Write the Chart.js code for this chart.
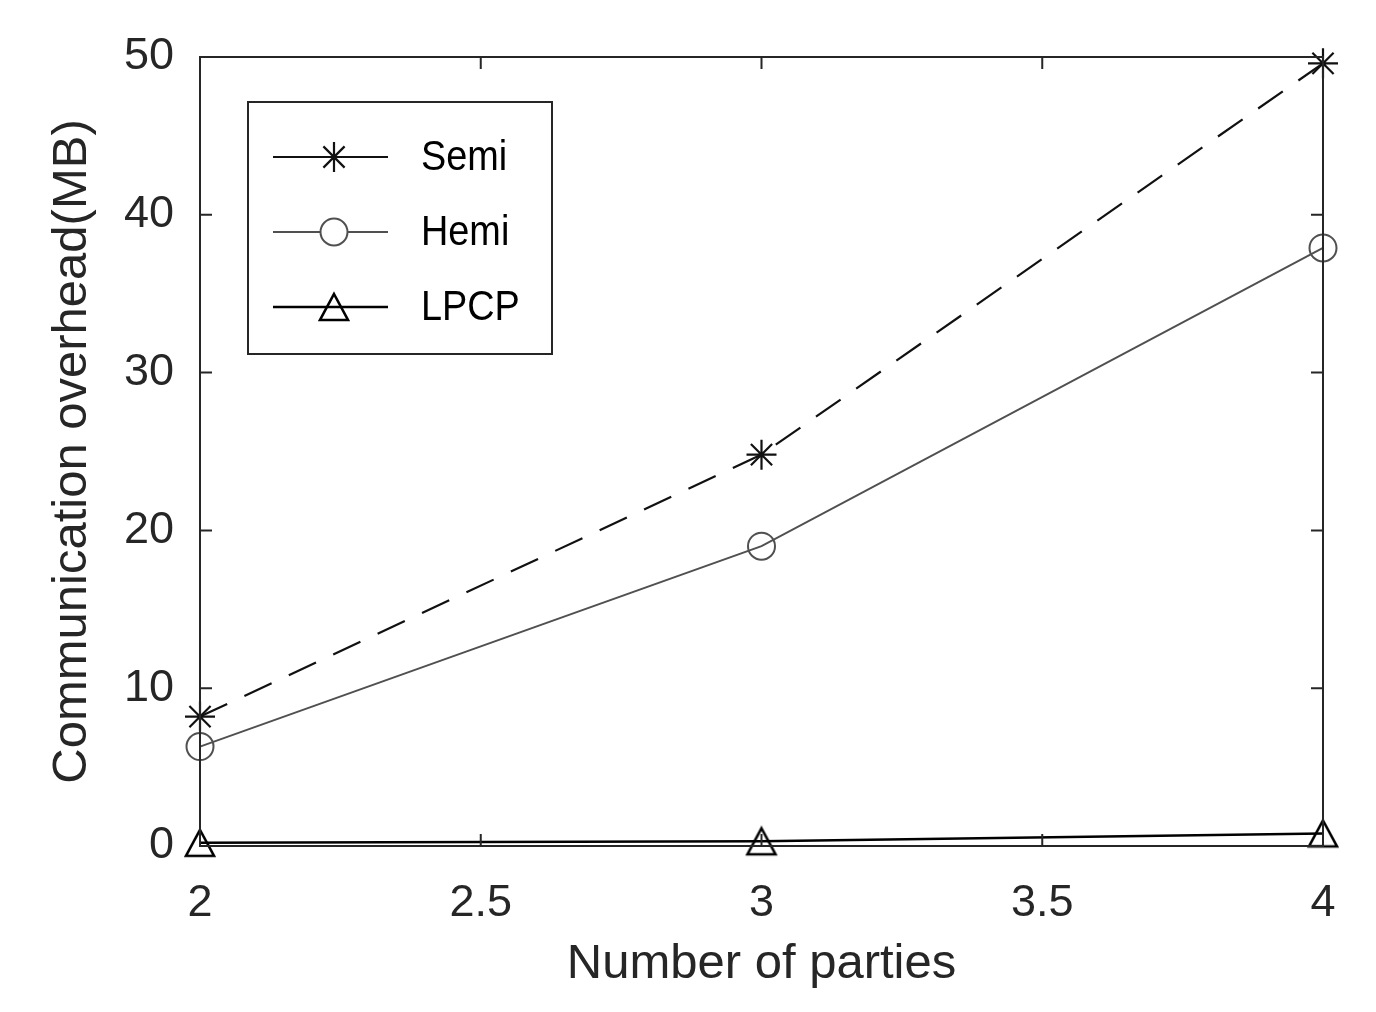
<!DOCTYPE html>
<html>
<head>
<meta charset="utf-8">
<script src="https://cdn.jsdelivr.net/npm/chart.js@4/dist/chart.umd.min.js"></script>
<style>
  html, body { margin: 0; padding: 0; background: #fff; }
  #wrap { width: 1376px; height: 1012px; }
</style>
</head>
<body>
<div id="wrap"><canvas id="overheadChart" width="1376" height="1012"></canvas></div>
<script>
// values
const parties = [2, 3, 4];
const semiMB = [8.2, 24.8, 49.6];
const hemiMB = [6.3, 19.0, 37.9];
const lpcpMB = [0.2, 0.3, 0.8];
const xTicks = [2, 2.5, 3, 3.5, 4];
const yTicks = [0, 10, 20, 30, 40, 50];

const axisColor = '#262626';
const fontFamily = '"Liberation Sans", Arial, Helvetica, sans-serif';

function toPoints(ys) {
    let pts = [];
    for (let i = 0; i < parties.length; i++) {
        pts.push({ x: parties[i], y: ys[i] });
    }
    return pts;
}

// matlab style triangle, centred on its bounding box
function makeTriangle() {
    let c = document.createElement('canvas');
    c.width = 34;
    c.height = 32;
    let g = c.getContext('2d');
    g.strokeStyle = '#000';
    g.lineWidth = 2.6;
    g.lineJoin = 'miter';
    g.beginPath();
    g.moveTo(17, 3);
    g.lineTo(31, 29);
    g.lineTo(3, 29);
    g.closePath();
    g.stroke();
    return c;
}
const triangleMarker = makeTriangle();

// box + inward ticks
const boxPlugin = {
    id: 'boxPlugin',
    afterDraw(chart) {
        const ctx = chart.ctx;
        const a = chart.chartArea;
        const xs = chart.scales.x;
        const ys = chart.scales.y;
        const len = 12;
        ctx.save();
        ctx.strokeStyle = axisColor;
        ctx.lineWidth = 2;
        ctx.beginPath();
        xTicks.forEach(function(t) {
            let px = xs.getPixelForValue(t);
            ctx.moveTo(px, a.bottom); ctx.lineTo(px, a.bottom - len);
            ctx.moveTo(px, a.top); ctx.lineTo(px, a.top + len);
        });
        yTicks.forEach(function(t) {
            let py = ys.getPixelForValue(t);
            ctx.moveTo(a.left, py); ctx.lineTo(a.left + len, py);
            ctx.moveTo(a.right, py); ctx.lineTo(a.right - len, py);
        });
        ctx.stroke();
        ctx.strokeRect(a.left, a.top, a.right - a.left, a.bottom - a.top);
        ctx.restore();
    }
};

// legend box inside the axes, top left
const insideLegend = {
    id: 'insideLegend',
    afterDatasetsDraw(chart) {
        const ctx = chart.ctx;
        const bx = 248, by = 102, bw = 304, bh = 252;
        ctx.save();
        ctx.fillStyle = '#fff';
        ctx.fillRect(bx, by, bw, bh);
        ctx.strokeStyle = axisColor;
        ctx.lineWidth = 2;
        ctx.strokeRect(bx, by, bw, bh);
        const rows = [157, 232, 307];
        chart.data.datasets.forEach(function(ds, i) {
            let y = rows[i];
            ctx.strokeStyle = ds.borderColor;
            ctx.lineWidth = ds.borderWidth;
            ctx.setLineDash([]);
            ctx.beginPath();
            ctx.moveTo(273, y); ctx.lineTo(388, y);
            ctx.stroke();
            ctx.lineWidth = ds.pointBorderWidth;
            ctx.strokeStyle = ds.pointBorderColor;
            ctx.fillStyle = '#fff';
            Chart.helpers.drawPoint(ctx, {
                pointStyle: ds.pointStyle,
                radius: ds.pointRadius,
                borderWidth: ds.pointBorderWidth
            }, 334, y);
            // the legend text is a bit narrow in the original
            ctx.save();
            ctx.translate(421, y + 1);
            ctx.scale(0.88, 1);
            ctx.fillStyle = '#000';
            ctx.font = '43px ' + fontFamily;
            ctx.textBaseline = 'middle';
            ctx.fillText(ds.label, 0, 0);
            ctx.restore();
        });
        ctx.restore();
    }
};

new Chart(document.getElementById('overheadChart'), {
    type: 'line',
    data: {
        datasets: [{
            label: 'Semi',
            data: toPoints(semiMB),
            borderColor: '#111',
            borderWidth: 2.2,
            borderDash: [30, 19],
            pointStyle: 'star',
            pointRadius: 15,
            pointBorderWidth: 2.2,
            pointBorderColor: '#111',
            pointBackgroundColor: 'rgba(0,0,0,0)',
            clip: false
        }, {
            label: 'Hemi',
            data: toPoints(hemiMB),
            borderColor: '#505050',
            borderWidth: 2,
            pointStyle: 'circle',
            pointRadius: 13.5,
            pointBorderWidth: 2,
            pointBorderColor: '#505050',
            pointBackgroundColor: 'rgba(0,0,0,0)',
            clip: false
        }, {
            label: 'LPCP',
            data: toPoints(lpcpMB),
            borderColor: '#000',
            borderWidth: 2.5,
            pointStyle: triangleMarker,
            pointRadius: 15,
            pointBorderWidth: 2.5,
            pointBorderColor: '#000',
            pointBackgroundColor: 'rgba(0,0,0,0)',
            clip: false
        }]
    },
    options: {
        responsive: false,
        animation: false,
        layout: { padding: { top: 57, right: 53, bottom: 0, left: 0 } },
        plugins: {
            legend: { display: false },
            tooltip: { enabled: false }
        },
        elements: { line: { tension: 0 } },
        scales: {
            x: {
                type: 'linear',
                min: 2,
                max: 4,
                afterBuildTicks: function(scale) {
                    scale.ticks = xTicks.map(function(v) { return { value: v }; });
                },
                afterFit: function(scale) { scale.height = 166; },
                grid: { display: false },
                border: { display: false },
                ticks: {
                    padding: 23,
                    color: axisColor,
                    font: { size: 45, family: fontFamily },
                    maxRotation: 0,
                    callback: function(v) { return String(v); }
                },
                title: {
                    display: true,
                    text: 'Number of parties',
                    color: axisColor,
                    font: { size: 49, family: fontFamily },
                    padding: { top: 0, bottom: 18 }
                }
            },
            y: {
                type: 'linear',
                min: 0,
                max: 50,
                afterBuildTicks: function(scale) {
                    scale.ticks = yTicks.map(function(v) { return { value: v }; });
                },
                afterFit: function(scale) { scale.width = 200; },
                grid: { display: false },
                border: { display: false },
                ticks: {
                    padding: 18,
                    color: axisColor,
                    font: { size: 45, family: fontFamily }
                },
                title: {
                    display: true,
                    text: 'Communication overhead(MB)',
                    color: axisColor,
                    font: { size: 49, family: fontFamily },
                    padding: { top: 43, bottom: 0 }
                }
            }
        }
    },
    plugins: [boxPlugin, insideLegend]
});
</script>
</body>
</html>
